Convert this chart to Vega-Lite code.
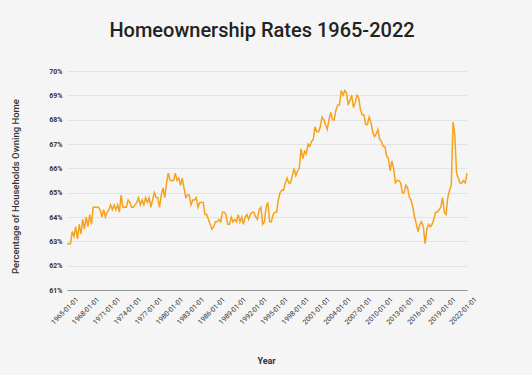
{
  "$schema": "https://vega.github.io/schema/vega-lite/v6.json",
  "width": 400,
  "height": 219,
  "autosize": "none",
  "padding": {"left": 67, "top": 71, "right": 65, "bottom": 85},
  "background": "#f5f5f5",
  "config": {"view": {"stroke": null}, "font": "Roboto"},
  "title": {"text": "Homeownership Rates 1965-2022", "fontSize": 20, "font": "Roboto", "fontWeight": 500, "color": "#222222", "anchor": "middle", "offset": 26, "dx": -5},
  "data": {"values": [
    {"quarter": "1965-01-01", "rate": 62.9}, {"quarter": "1965-04-01", "rate": 62.9}, {"quarter": "1965-07-01", "rate": 62.9}, {"quarter": "1965-10-01", "rate": 63.4},
    {"quarter": "1966-01-01", "rate": 63.2}, {"quarter": "1966-04-01", "rate": 63.6}, {"quarter": "1966-07-01", "rate": 63.1}, {"quarter": "1966-10-01", "rate": 63.7},
    {"quarter": "1967-01-01", "rate": 63.3}, {"quarter": "1967-04-01", "rate": 63.9}, {"quarter": "1967-07-01", "rate": 63.5}, {"quarter": "1967-10-01", "rate": 64.0},
    {"quarter": "1968-01-01", "rate": 63.6}, {"quarter": "1968-04-01", "rate": 64.1}, {"quarter": "1968-07-01", "rate": 63.7}, {"quarter": "1968-10-01", "rate": 64.4},
    {"quarter": "1969-01-01", "rate": 64.4}, {"quarter": "1969-04-01", "rate": 64.4}, {"quarter": "1969-07-01", "rate": 64.4}, {"quarter": "1969-10-01", "rate": 64.3},
    {"quarter": "1970-01-01", "rate": 64.0}, {"quarter": "1970-04-01", "rate": 64.3}, {"quarter": "1970-07-01", "rate": 64.0}, {"quarter": "1970-10-01", "rate": 64.2},
    {"quarter": "1971-01-01", "rate": 64.3}, {"quarter": "1971-04-01", "rate": 64.5}, {"quarter": "1971-07-01", "rate": 64.3}, {"quarter": "1971-10-01", "rate": 64.5},
    {"quarter": "1972-01-01", "rate": 64.3}, {"quarter": "1972-04-01", "rate": 64.5}, {"quarter": "1972-07-01", "rate": 64.2}, {"quarter": "1972-10-01", "rate": 64.9},
    {"quarter": "1973-01-01", "rate": 64.4}, {"quarter": "1973-04-01", "rate": 64.4}, {"quarter": "1973-07-01", "rate": 64.4}, {"quarter": "1973-10-01", "rate": 64.7},
    {"quarter": "1974-01-01", "rate": 64.6}, {"quarter": "1974-04-01", "rate": 64.4}, {"quarter": "1974-07-01", "rate": 64.4}, {"quarter": "1974-10-01", "rate": 64.5},
    {"quarter": "1975-01-01", "rate": 64.6}, {"quarter": "1975-04-01", "rate": 64.8}, {"quarter": "1975-07-01", "rate": 64.5}, {"quarter": "1975-10-01", "rate": 64.7},
    {"quarter": "1976-01-01", "rate": 64.5}, {"quarter": "1976-04-01", "rate": 64.8}, {"quarter": "1976-07-01", "rate": 64.6}, {"quarter": "1976-10-01", "rate": 64.8},
    {"quarter": "1977-01-01", "rate": 64.4}, {"quarter": "1977-04-01", "rate": 64.7}, {"quarter": "1977-07-01", "rate": 65.0}, {"quarter": "1977-10-01", "rate": 64.8},
    {"quarter": "1978-01-01", "rate": 64.8}, {"quarter": "1978-04-01", "rate": 64.4}, {"quarter": "1978-07-01", "rate": 64.9}, {"quarter": "1978-10-01", "rate": 65.2},
    {"quarter": "1979-01-01", "rate": 64.8}, {"quarter": "1979-04-01", "rate": 65.4}, {"quarter": "1979-07-01", "rate": 65.8}, {"quarter": "1979-10-01", "rate": 65.5},
    {"quarter": "1980-01-01", "rate": 65.5}, {"quarter": "1980-04-01", "rate": 65.5}, {"quarter": "1980-07-01", "rate": 65.8}, {"quarter": "1980-10-01", "rate": 65.5},
    {"quarter": "1981-01-01", "rate": 65.6}, {"quarter": "1981-04-01", "rate": 65.3}, {"quarter": "1981-07-01", "rate": 65.6}, {"quarter": "1981-10-01", "rate": 65.2},
    {"quarter": "1982-01-01", "rate": 64.8}, {"quarter": "1982-04-01", "rate": 64.9}, {"quarter": "1982-07-01", "rate": 64.9}, {"quarter": "1982-10-01", "rate": 64.5},
    {"quarter": "1983-01-01", "rate": 64.7}, {"quarter": "1983-04-01", "rate": 64.7}, {"quarter": "1983-07-01", "rate": 64.8}, {"quarter": "1983-10-01", "rate": 64.4},
    {"quarter": "1984-01-01", "rate": 64.6}, {"quarter": "1984-04-01", "rate": 64.6}, {"quarter": "1984-07-01", "rate": 64.6}, {"quarter": "1984-10-01", "rate": 64.1},
    {"quarter": "1985-01-01", "rate": 64.1}, {"quarter": "1985-04-01", "rate": 63.9}, {"quarter": "1985-07-01", "rate": 63.7}, {"quarter": "1985-10-01", "rate": 63.5},
    {"quarter": "1986-01-01", "rate": 63.6}, {"quarter": "1986-04-01", "rate": 63.8}, {"quarter": "1986-07-01", "rate": 63.8}, {"quarter": "1986-10-01", "rate": 63.9},
    {"quarter": "1987-01-01", "rate": 63.8}, {"quarter": "1987-04-01", "rate": 64.2}, {"quarter": "1987-07-01", "rate": 64.2}, {"quarter": "1987-10-01", "rate": 64.1},
    {"quarter": "1988-01-01", "rate": 63.7}, {"quarter": "1988-04-01", "rate": 63.7}, {"quarter": "1988-07-01", "rate": 64.0}, {"quarter": "1988-10-01", "rate": 63.8},
    {"quarter": "1989-01-01", "rate": 63.9}, {"quarter": "1989-04-01", "rate": 63.8}, {"quarter": "1989-07-01", "rate": 64.1}, {"quarter": "1989-10-01", "rate": 63.8},
    {"quarter": "1990-01-01", "rate": 64.0}, {"quarter": "1990-04-01", "rate": 63.7}, {"quarter": "1990-07-01", "rate": 64.0}, {"quarter": "1990-10-01", "rate": 64.1},
    {"quarter": "1991-01-01", "rate": 63.9}, {"quarter": "1991-04-01", "rate": 64.1}, {"quarter": "1991-07-01", "rate": 64.2}, {"quarter": "1991-10-01", "rate": 64.2},
    {"quarter": "1992-01-01", "rate": 64.0}, {"quarter": "1992-04-01", "rate": 63.9}, {"quarter": "1992-07-01", "rate": 64.3}, {"quarter": "1992-10-01", "rate": 64.4},
    {"quarter": "1993-01-01", "rate": 63.7}, {"quarter": "1993-04-01", "rate": 63.8}, {"quarter": "1993-07-01", "rate": 64.4}, {"quarter": "1993-10-01", "rate": 64.6},
    {"quarter": "1994-01-01", "rate": 63.8}, {"quarter": "1994-04-01", "rate": 63.8}, {"quarter": "1994-07-01", "rate": 64.1}, {"quarter": "1994-10-01", "rate": 64.2},
    {"quarter": "1995-01-01", "rate": 64.2}, {"quarter": "1995-04-01", "rate": 64.7}, {"quarter": "1995-07-01", "rate": 65.0}, {"quarter": "1995-10-01", "rate": 65.1},
    {"quarter": "1996-01-01", "rate": 65.1}, {"quarter": "1996-04-01", "rate": 65.4}, {"quarter": "1996-07-01", "rate": 65.6}, {"quarter": "1996-10-01", "rate": 65.4},
    {"quarter": "1997-01-01", "rate": 65.4}, {"quarter": "1997-04-01", "rate": 65.7}, {"quarter": "1997-07-01", "rate": 66.0}, {"quarter": "1997-10-01", "rate": 65.7},
    {"quarter": "1998-01-01", "rate": 65.9}, {"quarter": "1998-04-01", "rate": 66.0}, {"quarter": "1998-07-01", "rate": 66.8}, {"quarter": "1998-10-01", "rate": 66.4},
    {"quarter": "1999-01-01", "rate": 66.7}, {"quarter": "1999-04-01", "rate": 66.6}, {"quarter": "1999-07-01", "rate": 67.0}, {"quarter": "1999-10-01", "rate": 66.9},
    {"quarter": "2000-01-01", "rate": 67.1}, {"quarter": "2000-04-01", "rate": 67.2}, {"quarter": "2000-07-01", "rate": 67.7}, {"quarter": "2000-10-01", "rate": 67.5},
    {"quarter": "2001-01-01", "rate": 67.5}, {"quarter": "2001-04-01", "rate": 67.7}, {"quarter": "2001-07-01", "rate": 68.1}, {"quarter": "2001-10-01", "rate": 68.0},
    {"quarter": "2002-01-01", "rate": 67.8}, {"quarter": "2002-04-01", "rate": 67.6}, {"quarter": "2002-07-01", "rate": 68.0}, {"quarter": "2002-10-01", "rate": 68.3},
    {"quarter": "2003-01-01", "rate": 68.0}, {"quarter": "2003-04-01", "rate": 68.0}, {"quarter": "2003-07-01", "rate": 68.4}, {"quarter": "2003-10-01", "rate": 68.6},
    {"quarter": "2004-01-01", "rate": 68.6}, {"quarter": "2004-04-01", "rate": 69.2}, {"quarter": "2004-07-01", "rate": 69.0}, {"quarter": "2004-10-01", "rate": 69.2},
    {"quarter": "2005-01-01", "rate": 69.1}, {"quarter": "2005-04-01", "rate": 68.6}, {"quarter": "2005-07-01", "rate": 68.8}, {"quarter": "2005-10-01", "rate": 69.0},
    {"quarter": "2006-01-01", "rate": 68.5}, {"quarter": "2006-04-01", "rate": 68.7}, {"quarter": "2006-07-01", "rate": 69.0}, {"quarter": "2006-10-01", "rate": 68.9},
    {"quarter": "2007-01-01", "rate": 68.4}, {"quarter": "2007-04-01", "rate": 68.2}, {"quarter": "2007-07-01", "rate": 68.2}, {"quarter": "2007-10-01", "rate": 67.8},
    {"quarter": "2008-01-01", "rate": 67.8}, {"quarter": "2008-04-01", "rate": 68.1}, {"quarter": "2008-07-01", "rate": 67.9}, {"quarter": "2008-10-01", "rate": 67.5},
    {"quarter": "2009-01-01", "rate": 67.3}, {"quarter": "2009-04-01", "rate": 67.4}, {"quarter": "2009-07-01", "rate": 67.6}, {"quarter": "2009-10-01", "rate": 67.2},
    {"quarter": "2010-01-01", "rate": 67.1}, {"quarter": "2010-04-01", "rate": 66.9}, {"quarter": "2010-07-01", "rate": 66.9}, {"quarter": "2010-10-01", "rate": 66.5},
    {"quarter": "2011-01-01", "rate": 66.4}, {"quarter": "2011-04-01", "rate": 65.9}, {"quarter": "2011-07-01", "rate": 66.3}, {"quarter": "2011-10-01", "rate": 66.0},
    {"quarter": "2012-01-01", "rate": 65.4}, {"quarter": "2012-04-01", "rate": 65.5}, {"quarter": "2012-07-01", "rate": 65.5}, {"quarter": "2012-10-01", "rate": 65.4},
    {"quarter": "2013-01-01", "rate": 65.0}, {"quarter": "2013-04-01", "rate": 65.0}, {"quarter": "2013-07-01", "rate": 65.3}, {"quarter": "2013-10-01", "rate": 65.2},
    {"quarter": "2014-01-01", "rate": 64.8}, {"quarter": "2014-04-01", "rate": 64.7}, {"quarter": "2014-07-01", "rate": 64.4}, {"quarter": "2014-10-01", "rate": 64.0},
    {"quarter": "2015-01-01", "rate": 63.7}, {"quarter": "2015-04-01", "rate": 63.4}, {"quarter": "2015-07-01", "rate": 63.7}, {"quarter": "2015-10-01", "rate": 63.8},
    {"quarter": "2016-01-01", "rate": 63.6}, {"quarter": "2016-04-01", "rate": 62.9}, {"quarter": "2016-07-01", "rate": 63.5}, {"quarter": "2016-10-01", "rate": 63.7},
    {"quarter": "2017-01-01", "rate": 63.6}, {"quarter": "2017-04-01", "rate": 63.7}, {"quarter": "2017-07-01", "rate": 63.9}, {"quarter": "2017-10-01", "rate": 64.2},
    {"quarter": "2018-01-01", "rate": 64.2}, {"quarter": "2018-04-01", "rate": 64.3}, {"quarter": "2018-07-01", "rate": 64.4}, {"quarter": "2018-10-01", "rate": 64.8},
    {"quarter": "2019-01-01", "rate": 64.2}, {"quarter": "2019-04-01", "rate": 64.1}, {"quarter": "2019-07-01", "rate": 64.8}, {"quarter": "2019-10-01", "rate": 65.1},
    {"quarter": "2020-01-01", "rate": 65.3}, {"quarter": "2020-04-01", "rate": 67.9}, {"quarter": "2020-07-01", "rate": 67.4}, {"quarter": "2020-10-01", "rate": 65.8},
    {"quarter": "2021-01-01", "rate": 65.6}, {"quarter": "2021-04-01", "rate": 65.4}, {"quarter": "2021-07-01", "rate": 65.4}, {"quarter": "2021-10-01", "rate": 65.5},
    {"quarter": "2022-01-01", "rate": 65.4}, {"quarter": "2022-04-01", "rate": 65.8}
  ]},
  "mark": {"type": "line", "color": "#f7a21b", "strokeWidth": 1.5},
  "encoding": {
    "x": {
      "field": "quarter", "type": "temporal",
      "scale": {"type": "utc"},
      "axis": {
        "values": [
          {"year": 1965, "month": 1, "date": 1, "utc": true}, {"year": 1968, "month": 1, "date": 1, "utc": true},
          {"year": 1971, "month": 1, "date": 1, "utc": true}, {"year": 1974, "month": 1, "date": 1, "utc": true},
          {"year": 1977, "month": 1, "date": 1, "utc": true}, {"year": 1980, "month": 1, "date": 1, "utc": true},
          {"year": 1983, "month": 1, "date": 1, "utc": true}, {"year": 1986, "month": 1, "date": 1, "utc": true},
          {"year": 1989, "month": 1, "date": 1, "utc": true}, {"year": 1992, "month": 1, "date": 1, "utc": true},
          {"year": 1995, "month": 1, "date": 1, "utc": true}, {"year": 1998, "month": 1, "date": 1, "utc": true},
          {"year": 2001, "month": 1, "date": 1, "utc": true}, {"year": 2004, "month": 1, "date": 1, "utc": true},
          {"year": 2007, "month": 1, "date": 1, "utc": true}, {"year": 2010, "month": 1, "date": 1, "utc": true},
          {"year": 2013, "month": 1, "date": 1, "utc": true}, {"year": 2016, "month": 1, "date": 1, "utc": true},
          {"year": 2019, "month": 1, "date": 1, "utc": true}, {"year": 2022, "month": 1, "date": 1, "utc": true}
        ],
        "labelExpr": "utcFormat(datum.value, '%Y-%m-%d')",
        "labelAngle": -45, "labelAlign": "right", "labelBaseline": "middle",
        "labelFontSize": 7, "labelColor": "#333333", "labelOffset": 10, "labelPadding": 8,
        "labelOverlap": false, "labelFlush": false,
        "ticks": false, "grid": false, "domainColor": "#9a9a9a", "domainWidth": 1,
        "title": "Year", "titleFontSize": 9, "titleFontWeight": "bold", "titleColor": "#333333",
        "titleX": 199, "titleY": 70, "titleAlign": "center", "titleBaseline": "middle"
      }
    },
    "y": {
      "field": "rate", "type": "quantitative",
      "scale": {"domain": [61, 70], "nice": false, "zero": false},
      "axis": {
        "values": [61, 62, 63, 64, 65, 66, 67, 68, 69, 70],
        "labelExpr": "datum.value + '%'",
        "labelFontSize": 7, "labelFontWeight": "bold", "labelColor": "#333333", "labelPadding": 5,
        "ticks": false, "domain": false, "gridColor": "#e3e3e3", "gridWidth": 1,
        "title": "Percentage of Households Owning Home", "titleFontSize": 9.5, "titleFontWeight": 500, "titleColor": "#333333",
        "titleX": -52, "titleY": 115, "titleAlign": "center", "titleBaseline": "middle", "titleAngle": -90
      }
    }
  }
}
